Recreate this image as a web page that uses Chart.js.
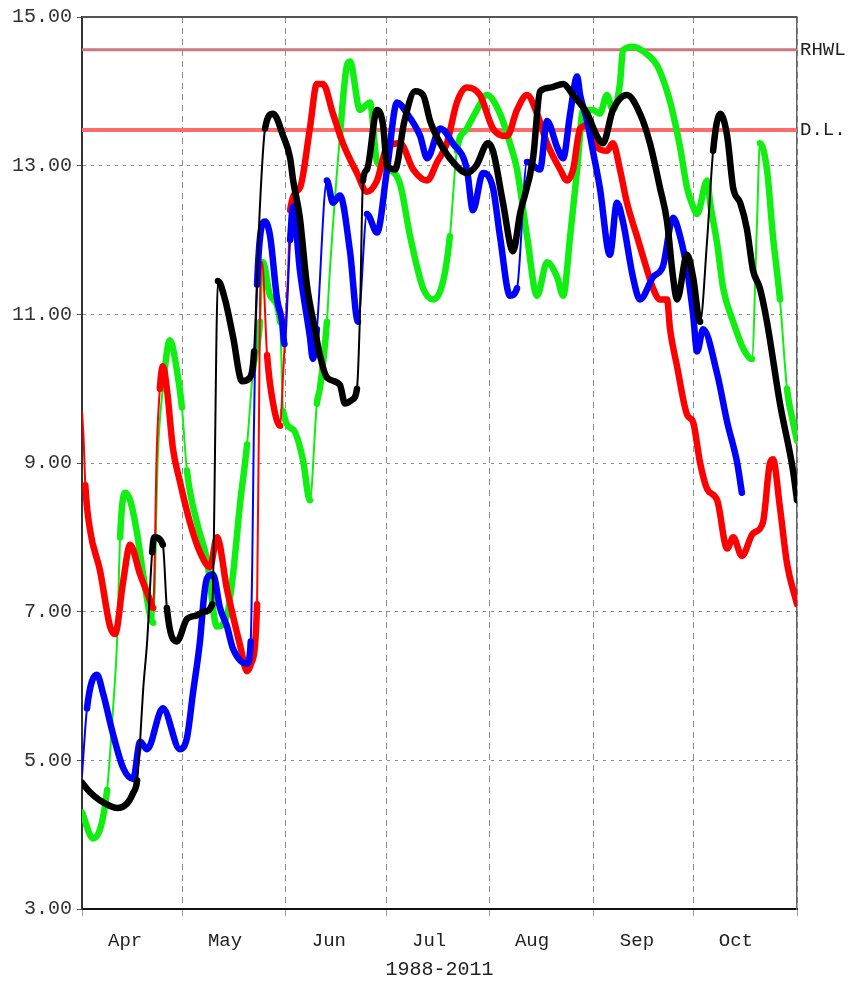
<!DOCTYPE html>
<html>
<head>
<meta charset="utf-8">
<title>1988-2011</title>
<script src="https://cdn.jsdelivr.net/npm/chart.js@4.4.1/dist/chart.umd.min.js"></script>
<style>
  html, body { margin: 0; padding: 0; background: #fff; }
</style>
</head>
<body>
<canvas id="levelChart" width="861" height="983"></canvas>
<script>
// axis layout (day 0 = Apr 1)
const monthNames = ['Apr', 'May', 'Jun', 'Jul', 'Aug', 'Sep', 'Oct'];
const monthStarts = [0, 30, 61, 91, 122, 153, 183, 214];
const monthLabelDays = [12.9, 42.8, 73.9, 103.9, 134.7, 166.1, 195.7];
const periodLabel = '1988-2011';

// reference levels
const thresholdValues = [14.56, 13.48];
const thresholdLabels = ['RHWL', 'D.L.'];

// black series
const blackDays = [0, 2.4, 5.4, 10.5, 13.5, 15.3, 16.5, 17.4, 18.3, 19.5, 21, 21.6, 24.2, 25.4, 28.4, 31.4, 34.4, 36.5, 39, 40.7, 42.8, 45.2, 47.9, 50.3, 51.5, 53.3, 54.8, 57.2, 60.2, 62.3, 63.2, 65.2, 67.3, 69.7, 71.2, 73.3, 77.2, 78.7, 80.8, 82.3, 83.2, 84.1, 85.3, 88.3, 90.1, 91.3, 93.7, 96.5, 99.7, 102.1, 104.2, 107.2, 111, 115.2, 118, 121.5, 123, 126, 129, 131.1, 135, 137.1, 140, 144, 147, 151.2, 154.1, 155.9, 158.9, 163.1, 167, 170, 173, 175.1, 176.9, 178.1, 181.1, 182.9, 185, 187.1, 188.9, 191, 193.1, 194.9, 197, 199, 200.8, 202.9, 205, 208.9, 212.8, 214];
const blackLevels = [4.7, 4.57, 4.46, 4.36, 4.42, 4.56, 4.73, 5.27, 5.95, 6.6, 7.8, 8.0, 7.9, 7.05, 6.6, 6.9, 6.95, 7.0, 7.1, 11.45, 11.2, 10.7, 10.1, 10.15, 10.5, 12.5, 13.5, 13.7, 13.4, 13.1, 12.8, 12.3, 11.4, 10.8, 10.45, 10.15, 10.05, 9.8, 9.85, 10.0, 11.0, 12.8, 12.95, 13.75, 13.55, 13.0, 12.95, 13.6, 14.0, 13.95, 13.6, 13.3, 13.05, 12.9, 13.0, 13.3, 13.2, 12.5, 11.85, 12.35, 13.1, 14.0, 14.05, 14.1, 13.95, 13.7, 13.4, 13.3, 13.75, 13.95, 13.7, 13.3, 12.7, 12.25, 11.5, 11.2, 11.8, 11.5, 10.9, 12.0, 13.2, 13.7, 13.4, 12.7, 12.5, 12.15, 11.6, 11.35, 10.9, 9.8, 8.9, 8.5];

// red series
const redDays = [0, 0.5, 1, 2.4, 5.4, 8.4, 9.9, 12.3, 14.4, 17.4, 20.4, 21.3, 22.4, 23.3, 24.2, 25.4, 27.2, 29.3, 32.3, 35.3, 38.3, 40.4, 43.4, 44.9, 47.3, 49.4, 50.6, 52.4, 53.3, 53.9, 55.4, 57.2, 59.3, 60.2, 61.7, 62.3, 65.2, 68.2, 70.3, 72.1, 75.1, 78.1, 82.3, 85.3, 88.3, 91.3, 95.2, 99.1, 103.3, 106.3, 109.2, 112.2, 115.2, 119.1, 123, 127.2, 130.2, 133.2, 136.2, 139.2, 143.1, 145.2, 147, 149.1, 152.1, 154.1, 157.1, 158.9, 161, 163.1, 166.1, 169.1, 170.9, 173, 175.1, 176, 178.1, 181.1, 182.9, 185, 187.1, 190.1, 193.1, 194.9, 197.5, 200.8, 203.8, 205.9, 206.8, 208.9, 211, 214];
const redLevels = [9.7, 9.3, 8.7, 8.1, 7.55, 6.8, 6.7, 7.4, 7.9, 7.5, 7.15, 7.05, 9.2, 10.0, 10.3, 10.0, 9.2, 8.75, 8.2, 7.8, 7.6, 8.0, 7.3, 7.0, 6.55, 6.2, 6.3, 7.1, 11.2, 11.7, 10.45, 9.8, 9.5, 10.2, 11.6, 12.4, 12.7, 13.5, 14.1, 14.1, 13.7, 13.3, 12.9, 12.65, 12.8, 13.25, 13.3, 12.95, 12.8, 13.05, 13.3, 13.85, 14.05, 13.95, 13.5, 13.4, 13.75, 13.95, 13.7, 13.3, 12.95, 12.8, 12.95, 13.5, 13.55, 13.25, 13.2, 13.3, 12.95, 12.5, 12.05, 11.6, 11.35, 11.2, 11.2, 10.8, 10.3, 9.65, 9.55, 9.0, 8.65, 8.5, 7.85, 8.0, 7.75, 8.05, 8.2, 9.0, 9.05, 8.4, 7.65, 7.1];

// blue series
const blueDays = [0, 1.5, 4.5, 6.3, 9.3, 12.3, 15.3, 17.4, 19.5, 24.2, 29.3, 31.4, 33.2, 35.3, 36.5, 37.4, 39.2, 41.3, 43.4, 45.2, 49.4, 50.5, 51, 51.4, 52.4, 54.8, 56.3, 58.4, 59.9, 60.6, 62.3, 63.2, 65.2, 68.2, 69.1, 70.3, 73.3, 75.1, 77.2, 80.2, 82.6, 85.3, 88.3, 91.3, 94.3, 97.3, 101.2, 103.3, 107.2, 111, 115.2, 117, 120, 123, 125.1, 128.1, 130.2, 133.2, 137.1, 139.2, 142.2, 144, 146.1, 148.2, 149.1, 151.2, 152.9, 155, 158, 160.1, 161.9, 164.9, 167, 170.9, 173.9, 176.9, 179, 181.1, 182.9, 184.1, 185.9, 190.1, 193.1, 196.1, 197.5];
const blueLevels = [4.8, 5.7, 6.15, 5.9, 5.35, 4.9, 4.75, 5.25, 5.15, 5.7, 5.15, 5.3, 5.9, 6.6, 7.2, 7.45, 7.5, 7.05, 6.8, 6.5, 6.3, 6.6, 7.8, 9.3, 11.4, 12.25, 12.05, 11.2, 10.9, 10.6, 12.0, 12.45, 11.6, 10.7, 10.4, 10.8, 12.8, 12.5, 12.6, 11.85, 10.9, 12.35, 12.1, 12.95, 13.85, 13.7, 13.4, 13.1, 13.5, 13.3, 12.95, 12.4, 12.9, 12.7, 12.05, 11.25, 11.35, 13.05, 12.95, 13.6, 13.25, 13.1, 13.7, 14.2, 13.95, 13.6, 13.2, 12.7, 11.8, 12.5, 12.25, 11.5, 11.2, 11.5, 11.65, 12.3, 12.05, 11.6, 11.0, 10.5, 10.8, 10.2, 9.55, 9.0, 8.6];

// green series
const greenDays = [0, 3.3, 7.5, 9.3, 10.5, 11.4, 12.9, 14.4, 16.5, 18.3, 20.4, 21.3, 22.7, 24.2, 26.3, 28.4, 29.9, 31.4, 34.4, 37.4, 40.4, 43.4, 45.2, 47.3, 49.4, 51.2, 53.3, 54.2, 56.3, 59.3, 60.2, 63.2, 66.1, 68.2, 70.3, 71.2, 73.3, 74.2, 77.2, 79.3, 80.2, 83.2, 86.2, 88.3, 91.3, 95.2, 98.2, 102.1, 105.1, 108.1, 110.1, 112.2, 115.2, 118.2, 121.2, 125.1, 128.1, 130.2, 133.2, 136.2, 139.2, 142.2, 144, 146.1, 148.2, 150, 152.9, 155, 157.1, 158.9, 161, 161.9, 164.9, 169.1, 172.1, 175.1, 176.9, 179, 181.1, 182.9, 184.1, 187.1, 188, 190.1, 191.9, 194.9, 197.8, 200.5, 202, 202.9, 205, 206.8, 208.9, 211, 212.8, 214];
const greenLevels = [4.3, 3.95, 4.6, 5.7, 6.6, 8.0, 8.6, 8.5, 8.05, 7.5, 6.95, 6.85, 9.1, 10.0, 10.65, 10.25, 9.75, 8.9, 8.2, 7.7, 6.8, 6.95, 7.5, 8.45, 9.25, 10.25, 10.9, 11.7, 11.25, 10.9, 9.7, 9.45, 9.05, 8.5, 9.8, 10.0, 10.9, 11.6, 13.4, 14.35, 14.4, 13.75, 13.85, 13.05, 12.95, 12.75, 12.05, 11.35, 11.2, 11.45, 12.05, 13.2, 13.5, 13.75, 13.95, 13.7, 13.3, 12.95, 12.05, 11.25, 11.7, 11.5, 11.25, 12.05, 12.95, 13.75, 13.75, 13.7, 13.95, 13.75, 14.1, 14.55, 14.6, 14.5, 14.35, 14.0, 13.7, 13.25, 12.7, 12.45, 12.35, 12.8, 12.5, 11.95, 11.35, 10.9, 10.55, 10.4, 12.2, 13.3, 12.95, 12.05, 11.2, 10.0, 9.55, 9.3];

const MONO = "'Liberation Mono', 'DejaVu Sans Mono', monospace";

function toPoints(days, levels) {
    return days.map((d, i) => ({ x: d, y: levels[i] }));
}

// steep stretches show as a thin line, flat stretches as a heavy band
const steepSegment = {
    borderWidth: ctx => {
        const dx = ctx.p1.parsed.x - ctx.p0.parsed.x;
        const dy = Math.abs(ctx.p1.parsed.y - ctx.p0.parsed.y);
        return dy / dx > 0.5 ? 2 : 6.5;
    }
};

function seriesDataset(days, levels, color) {
    return {
        data: toPoints(days, levels),
        borderColor: color,
        borderWidth: 6.5,
        pointRadius: 0,
        cubicInterpolationMode: 'monotone',
        borderJoinStyle: 'round',
        borderCapStyle: 'round',
        segment: steepSegment
    };
}

function levelDataset(value, color, width) {
    return {
        data: [{ x: monthStarts[0], y: value }, { x: monthStarts[monthStarts.length - 1], y: value }],
        borderColor: color,
        borderWidth: width,
        pointRadius: 0
    };
}

// top edge of the plot frame
const frameTop = {
    id: 'frameTop',
    afterDraw(chart) {
        const { ctx, chartArea } = chart;
        ctx.save();
        ctx.strokeStyle = '#555';
        ctx.lineWidth = 2;
        ctx.beginPath();
        ctx.moveTo(chartArea.left, chartArea.top);
        ctx.lineTo(chartArea.right, chartArea.top);
        ctx.stroke();
        ctx.restore();
    }
};

document.addEventListener('DOMContentLoaded', function() {
    const ctx = document.getElementById('levelChart').getContext('2d');

    new Chart(ctx, {
        type: 'line',
        data: {
            datasets: [
                seriesDataset(blackDays, blackLevels, '#000000'),
                seriesDataset(blueDays, blueLevels, '#0000ff'),
                seriesDataset(redDays, redLevels, '#ff0000'),
                seriesDataset(greenDays, greenLevels, '#11ee11'),
                levelDataset(thresholdValues[0], '#c9797c', 3),
                levelDataset(thresholdValues[1], '#ff6b6b', 4)
            ]
        },
        options: {
            responsive: false,
            animation: false,
            events: [],
            layout: { padding: { top: 14, left: 0, right: 0, bottom: 0 } },
            plugins: {
                legend: { display: false },
                tooltip: { enabled: false }
            },
            scales: {
                x: {
                    type: 'linear',
                    position: 'bottom',
                    weight: 0,
                    min: monthStarts[0],
                    max: monthStarts[monthStarts.length - 1],
                    afterBuildTicks: axis => { axis.ticks = monthStarts.map(v => ({ value: v })); },
                    afterFit: axis => { axis.height = 8; },
                    ticks: { display: false },
                    grid: { color: '#8c8c8c', lineWidth: 1, tickLength: 7, tickColor: '#a0a0a0' },
                    border: { display: true, color: '#111', width: 2, dash: [6, 5] }
                },
                months: {
                    type: 'linear',
                    position: 'bottom',
                    weight: 1,
                    min: monthStarts[0],
                    max: monthStarts[monthStarts.length - 1],
                    afterBuildTicks: axis => { axis.ticks = monthLabelDays.map(v => ({ value: v })); },
                    afterFit: axis => { axis.height = 66; },
                    grid: { display: false, drawTicks: false },
                    border: { display: false },
                    ticks: {
                        autoSkip: false,
                        maxRotation: 0,
                        padding: 13,
                        color: '#222',
                        font: { family: MONO, size: 19 },
                        callback: (value, index) => monthNames[index]
                    },
                    title: {
                        display: true,
                        text: periodLabel,
                        color: '#222',
                        font: { family: MONO, size: 20, lineHeight: 1 },
                        padding: { top: 0, bottom: 3 }
                    }
                },
                y: {
                    type: 'linear',
                    position: 'left',
                    min: 3,
                    max: 15,
                    afterFit: axis => { axis.width = 82; },
                    ticks: {
                        stepSize: 2,
                        padding: 5,
                        color: '#333',
                        font: { family: MONO, size: 20 },
                        callback: value => value.toFixed(2)
                    },
                    grid: { color: '#8c8c8c', lineWidth: 1, tickLength: 5, tickColor: '#555' },
                    border: { display: true, color: '#333', width: 2, dash: [3, 5] }
                },
                y2: {
                    type: 'linear',
                    position: 'right',
                    min: 3,
                    max: 15,
                    afterBuildTicks: axis => { axis.ticks = thresholdValues.map(v => ({ value: v })); },
                    afterFit: axis => { axis.width = 64; },
                    ticks: {
                        padding: 3,
                        color: '#222',
                        font: { family: MONO, size: 19 },
                        callback: (value, index) => thresholdLabels[index]
                    },
                    grid: { display: false, drawTicks: false, tickLength: 0 },
                    border: { display: true, color: '#666', width: 1.5 }
                }
            }
        },
        plugins: [frameTop]
    });
});
</script>
</body>
</html>
